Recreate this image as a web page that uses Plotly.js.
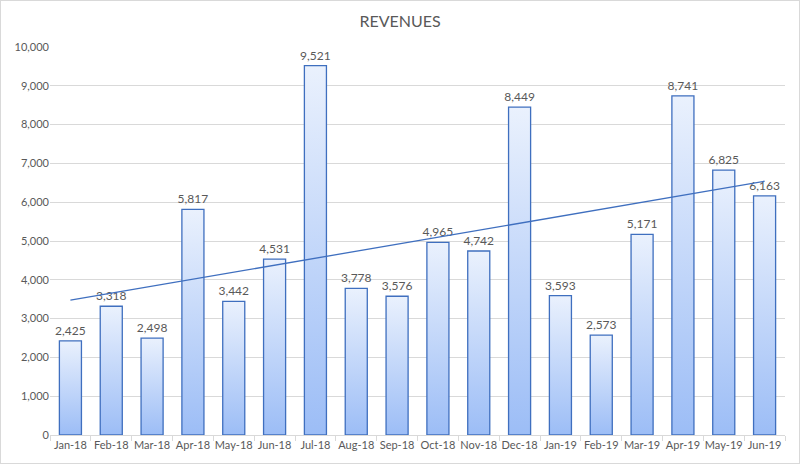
<!DOCTYPE html>
<html>
<head>
<meta charset="utf-8">
<script src="https://cdn.plot.ly/plotly-3.0.1.min.js"></script>
<style>
html,body{margin:0;padding:0;background:#fff;}
#chart{width:800px;height:464px;box-sizing:border-box;border:1px solid #d9d9d9;}
</style>
</head>
<body>
<div id="chart"></div>
<script>
const months = ["Jan-18","Feb-18","Mar-18","Apr-18","May-18","Jun-18","Jul-18","Aug-18","Sep-18","Oct-18","Nov-18","Dec-18","Jan-19","Feb-19","Mar-19","Apr-19","May-19","Jun-19"];
const revenues = [2425,3318,2498,5817,3442,4531,9521,3778,3576,4965,4742,8449,3593,2573,5171,8741,6825,6163];
const yTicks = [0,1000,2000,3000,4000,5000,6000,7000,8000,9000,10000];

// linear least-squares trendline of the revenue series (as Excel computes it)
const n = revenues.length;
const xs = revenues.map((_, i) => i + 1);
const mx = xs.reduce((a, b) => a + b, 0) / n;
const my = revenues.reduce((a, b) => a + b, 0) / n;
let sxy = 0, sxx = 0;
for (let i = 0; i < n; i++) { sxy += (xs[i] - mx) * (revenues[i] - my); sxx += (xs[i] - mx) * (xs[i] - mx); }
const slope = sxy / sxx, icpt = my - slope * mx;
const trend = xs.map(x => icpt + slope * x);

const font = "Lato, 'Open Sans', sans-serif";
const grey = "#595959";

const traces = [
  {
    type: "bar",
    x: months,
    y: revenues,
    marker: {color: "#c6d9f8", line: {color: "#3f6fbf", width: 1.3}},
    texttemplate: "%{y:,}",
    textposition: "outside",
    constraintext: "none",
    textfont: {family: font, size: 12, color: grey},
    cliponaxis: false,
    hoverinfo: "x+y"
  },
  {
    type: "scatter",
    mode: "lines",
    x: months,
    y: trend,
    line: {color: "#3f6fbf", width: 1.3},
    hoverinfo: "skip"
  }
];

const layout = {
  width: 798,
  height: 462,
  margin: {l: 49, r: 14, t: 46, b: 28},
  paper_bgcolor: "#ffffff",
  plot_bgcolor: "#ffffff",
  showlegend: false,
  bargap: 0.46,
  title: {text: "REVENUES", font: {family: font, size: 16, color: grey}, x: 0.5, xanchor: "center", y: 0.955, yanchor: "middle"},
  xaxis: {
    type: "category",
    tickangle: 0,
    tickfont: {family: font, size: 11, color: grey},
    showline: true, linecolor: "#d9d9d9", linewidth: 1,
    ticks: "outside", tickson: "boundaries", ticklen: 5, tickcolor: "#d9d9d9",
    showgrid: false, zeroline: false
  },
  yaxis: {
    range: [0, 10000],
    tickvals: yTicks,
    tickformat: ",d",
    tickfont: {family: font, size: 11, color: grey},
    showgrid: true, gridcolor: "#d9d9d9", gridwidth: 1,
    zeroline: false, showline: false, ticks: "", ticklen: 8, tickcolor: "rgba(0,0,0,0)"
  }
};

Plotly.newPlot("chart", traces, layout, {displayModeBar: false, staticPlot: true}).then(gd => {
  const svg = gd.querySelector("svg.main-svg");
  const ns = "http://www.w3.org/2000/svg";
  let defs = svg.querySelector("defs");
  if (!defs) { defs = document.createElementNS(ns, "defs"); svg.insertBefore(defs, svg.firstChild); }
  const lg = document.createElementNS(ns, "linearGradient");
  lg.setAttribute("id", "barGrad");
  lg.setAttribute("x1", "0"); lg.setAttribute("y1", "0");
  lg.setAttribute("x2", "0"); lg.setAttribute("y2", "1");
  [["0%", "#eaf1fd"], ["100%", "#9cbdf6"]].forEach(([o, c]) => {
    const s = document.createElementNS(ns, "stop");
    s.setAttribute("offset", o); s.setAttribute("stop-color", c);
    lg.appendChild(s);
  });
  defs.appendChild(lg);
  gd.querySelectorAll(".trace.bars .point path").forEach(p => {
    p.style.fill = "url(#barGrad)";
  });
});
</script>
</body>
</html>
